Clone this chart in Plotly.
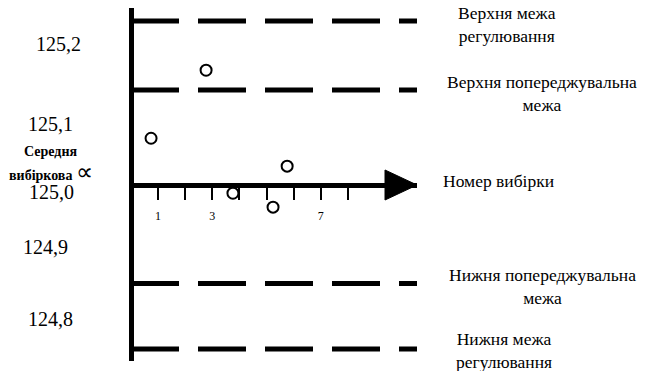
import plotly.graph_objects as go

W, H = 648, 371

# sample points: sample number and sample mean
sample_no = [0.74, 2.77, 3.76, 5.24, 5.76]
sample_mean = [125.057, 125.140, 124.990, 124.973, 125.023]

# centre line and limits (upper control, upper warning, lower warning, lower control)
centre = 125.0
limits = [125.2, 125.116, 124.880, 124.8]

x_ticks = [1, 2, 3, 4, 5, 6, 7, 8]
x_tick_text = ["1", "", "3", "", "", "", "7", ""]
x_end = 10.55

value_labels = ["125,2", "125,1", "125,0", "124,9", "124,8"]
limit_labels = [
    "Верхня межа<br>регулювання",
    "Верхня попереджувальна<br>межа",
    "Номер вибірки",
    "Нижня попереджувальна<br>межа",
    "Нижня межа<br>регулювання",
]
y_title = ["<b>Середня</b>", "<b>вибіркова</b> <span style='font-size:24px'>∝</span>"]

# label positions in pixels (x centre, y centre)
value_pos = [(58, 44), (50, 124), (51, 192), (45, 247), (50, 319)]
limit_pos = [(507, 25), (542, 94), (498, 181), (542, 286), (504, 350)]
title_pos = [(50, 151), (51, 172)]

serif = "Liberation Serif"
px_per_x = 27.1
axis_px = 131


def paper(px, py):
    return px / W, 1 - py / H


fig = go.Figure()

for lim in limits:
    fig.add_trace(go.Scatter(
        x=[0, x_end], y=[lim, lim],
        mode="lines",
        line=dict(color="black", width=5, dash="48px,19px"),
        hoverinfo="skip"
    ))

fig.add_trace(go.Scatter(
    x=sample_no, y=sample_mean,
    mode="markers",
    marker=dict(symbol="circle", size=11, color="white",
                line=dict(color="black", width=2)),
    cliponaxis=False
))

# arrow head on the sample-number axis
ah_len, ah_half = 1.18, 0.0183
fig.add_shape(
    type="path", xref="x", yref="y",
    path=f"M {x_end - ah_len},{centre + ah_half} L {x_end},{centre} "
         f"L {x_end - ah_len},{centre - ah_half} Z",
    fillcolor="black", line=dict(color="black", width=1)
)

annotations = []
for txt, (px, py) in zip(value_labels, value_pos):
    x, y = paper(px, py)
    annotations.append(dict(x=x, y=y, xref="paper", yref="paper", text=txt,
                            showarrow=False, xanchor="center", yanchor="middle",
                            font=dict(family=serif, size=20, color="black")))

for txt, (px, py) in zip(y_title, title_pos):
    x, y = paper(px, py)
    annotations.append(dict(x=x, y=y, xref="paper", yref="paper", text=txt,
                            showarrow=False, xanchor="center", yanchor="middle",
                            font=dict(family=serif, size=14, color="black")))

for txt, (px, py) in zip(limit_labels, limit_pos):
    x, y = paper(px, py)
    annotations.append(dict(x=x, y=y, xref="paper", yref="paper", text=txt,
                            showarrow=False, xanchor="center", yanchor="middle",
                            align="center",
                            font=dict(family=serif, size=17.5, color="black")))

dom_left = axis_px + 2.5
fig.update_layout(
    width=W, height=H,
    margin=dict(l=0, r=0, t=0, b=0),
    paper_bgcolor="white", plot_bgcolor="white",
    showlegend=False,
    xaxis=dict(
        domain=[dom_left / W, 417 / W],
        range=[(dom_left - axis_px) / px_per_x, x_end],
        anchor="free", position=(H - 185) / H,
        showline=True, linewidth=5, linecolor="black",
        ticks="outside", ticklen=12, tickwidth=2, tickcolor="black",
        tickvals=x_ticks, ticktext=x_tick_text,
        tickfont=dict(family=serif, size=12, color="black"),
        ticklabelstandoff=6,
        showgrid=False, zeroline=False, layer="below traces"
    ),
    yaxis=dict(
        domain=[(H - 361) / H, (H - 8) / H],
        range=[centre - 176 / 820, centre + 177 / 820],
        anchor="x",
        showline=True, linewidth=5, linecolor="black",
        showticklabels=False, ticks="",
        showgrid=False, zeroline=False, layer="below traces"
    ),
    annotations=annotations
)

fig.write_html("out.html", config={"displayModeBar": False},
               post_script="document.body.style.margin='0';")
